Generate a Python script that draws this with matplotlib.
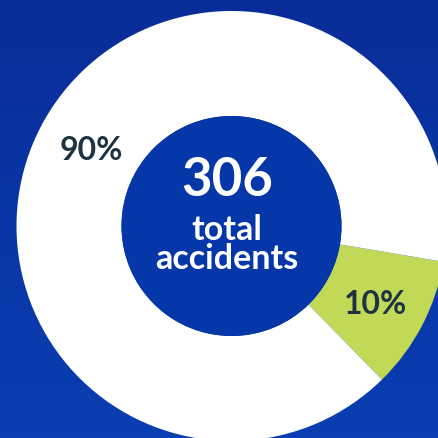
import numpy as np
import matplotlib.pyplot as plt
from matplotlib.patches import Circle

# share of accidents
labels = ["10%", "90%"]
shares = [10, 90]
total = 306
colors = ["#c1d957", "#ffffff"]

W, H = 438, 439
fig = plt.figure(figsize=(W / 100, H / 100), dpi=100)
ax = fig.add_axes([0, 0, 1, 1])

# blue backdrop, a bit lighter towards the bottom
grad = np.linspace(0, 1, 256)[:, None]
top = np.array([9, 45, 152]) / 255
bot = np.array([10, 62, 178]) / 255
bg = top + (bot - top) * grad[..., None]
ax.imshow(np.repeat(bg, 2, axis=1), extent=[0, W, 0, H], origin="upper",
          aspect="auto", zorder=0)

cx, cy, r_out, r_in = 231.5, 212, 215, 110
wedges, _ = ax.pie(shares, colors=colors, startangle=-9.6, counterclock=False,
                   center=(cx, cy), radius=r_out,
                   wedgeprops=dict(width=r_out - r_in, linewidth=0))
for w in wedges:
    w.set_zorder(1)
ax.add_patch(Circle((cx, cy), r_in, color="#0537a8", zorder=2, lw=0))

ax.text(cx - 4, 439 - 181, str(total), color="white", fontsize=38,
        fontweight="bold", family="Lato", ha="center", va="center", zorder=3)
ax.text(cx - 5, 439 - 269, "total\naccidents", color="white", fontsize=24.5,
        fontweight="bold", family="Lato", ha="center", va="baseline",
        multialignment="center", linespacing=0.9, zorder=3)

ax.text(376, 439 - 304, labels[0], color="#1e3342", fontsize=23,
        fontweight="bold", family="Lato", ha="center", va="center", zorder=3)
ax.text(91, 439 - 150, labels[1], color="#1e3342", fontsize=23,
        fontweight="bold", family="Lato", ha="center", va="center", zorder=3)

ax.set_xlim(0, W)
ax.set_ylim(0, H)
ax.set_aspect("auto")
ax.axis("off")
fig.savefig("out.png", dpi=100)
